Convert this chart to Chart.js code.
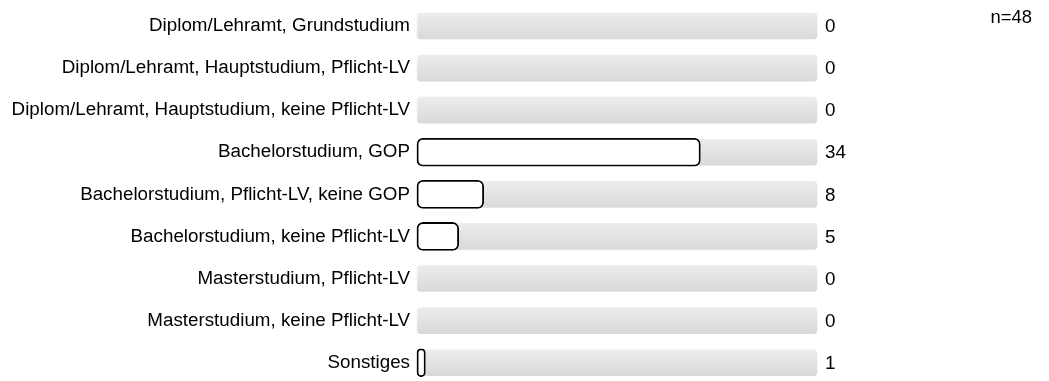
<!DOCTYPE html>
<html>
<head>
<meta charset="utf-8">
<script src="https://cdn.jsdelivr.net/npm/chart.js@4"></script>
<style>
  html, body { margin: 0; padding: 0; background: #fff; }
  #wrap { width: 1049px; height: 381px; position: relative; }
</style>
</head>
<body>
<div id="wrap"><canvas id="c" width="1049" height="381"></canvas></div>
<script>
const categories = [
  "Diplom/Lehramt, Grundstudium",
  "Diplom/Lehramt, Hauptstudium, Pflicht-LV",
  "Diplom/Lehramt, Hauptstudium, keine Pflicht-LV",
  "Bachelorstudium, GOP",
  "Bachelorstudium, Pflicht-LV, keine GOP",
  "Bachelorstudium, keine Pflicht-LV",
  "Masterstudium, Pflicht-LV",
  "Masterstudium, keine Pflicht-LV",
  "Sonstiges"
];
const counts = [0, 0, 0, 34, 8, 5, 0, 0, 1];
const total = 48;
const totalLabel = "n=48";

const FONT = "'Liberation Sans', Arial, Helvetica, sans-serif";

const trackColor = (c) => {
  const chart = c.chart;
  const ys = chart.scales && chart.scales.y;
  if (!ys || ys.top === undefined || isNaN(ys.getPixelForValue(c.dataIndex))) return '#e2e2e2';
  const y = ys.getPixelForValue(c.dataIndex);
  const g = chart.ctx.createLinearGradient(0, y - 13, 0, y + 13);
  g.addColorStop(0, '#ececec');
  g.addColorStop(1, '#d9d9d9');
  return g;
};

const labelsPlugin = {
  id: 'valueLabels',
  afterDatasetsDraw(chart) {
    const ctx = chart.ctx;
    const ys = chart.scales.y;
    const area = chart.chartArea;
    ctx.save();
    ctx.fillStyle = '#000';
    ctx.font = '18.8px ' + FONT;
    ctx.textAlign = 'left';
    ctx.textBaseline = 'middle';
    counts.forEach((v, i) => {
      ctx.fillText(String(v), area.right + 8, ys.getPixelForValue(i) + 1);
    });
    ctx.font = '18.4px ' + FONT;
    ctx.textAlign = 'right';
    ctx.fillText(totalLabel, 1032, 18);
    ctx.restore();
  }
};

new Chart(document.getElementById('c'), {
  type: 'bar',
  data: {
    labels: categories,
    datasets: [
      {
        data: counts,
        backgroundColor: '#ffffff',
        borderColor: '#000000',
        borderWidth: (c) => (c.raw > 0 ? 1.8 : 0),
        borderRadius: 6,
        borderSkipped: false,
        barThickness: 28,
        grouped: false,
        clip: false
      },
      {
        data: categories.map(() => total),
        backgroundColor: trackColor,
        borderWidth: 0,
        borderRadius: 4,
        borderSkipped: false,
        barThickness: 26,
        grouped: false,
        clip: false
      }
    ]
  },
  options: {
    indexAxis: 'y',
    responsive: false,
    animation: false,
    devicePixelRatio: 1,
    layout: { padding: { top: 26, bottom: 13, left: 0, right: 232 } },
    plugins: { legend: { display: false }, tooltip: { enabled: false }, title: { display: false } },
    scales: {
      x: { display: false, min: 0, max: total },
      y: {
        offset: false,
        grid: { display: false, drawTicks: false },
        border: { display: false },
        ticks: { color: '#000', padding: 7, font: { size: 18.8, family: FONT } },
        afterFit(scale) { scale.width = 417; }
      }
    }
  },
  plugins: [labelsPlugin]
});
</script>
</body>
</html>
